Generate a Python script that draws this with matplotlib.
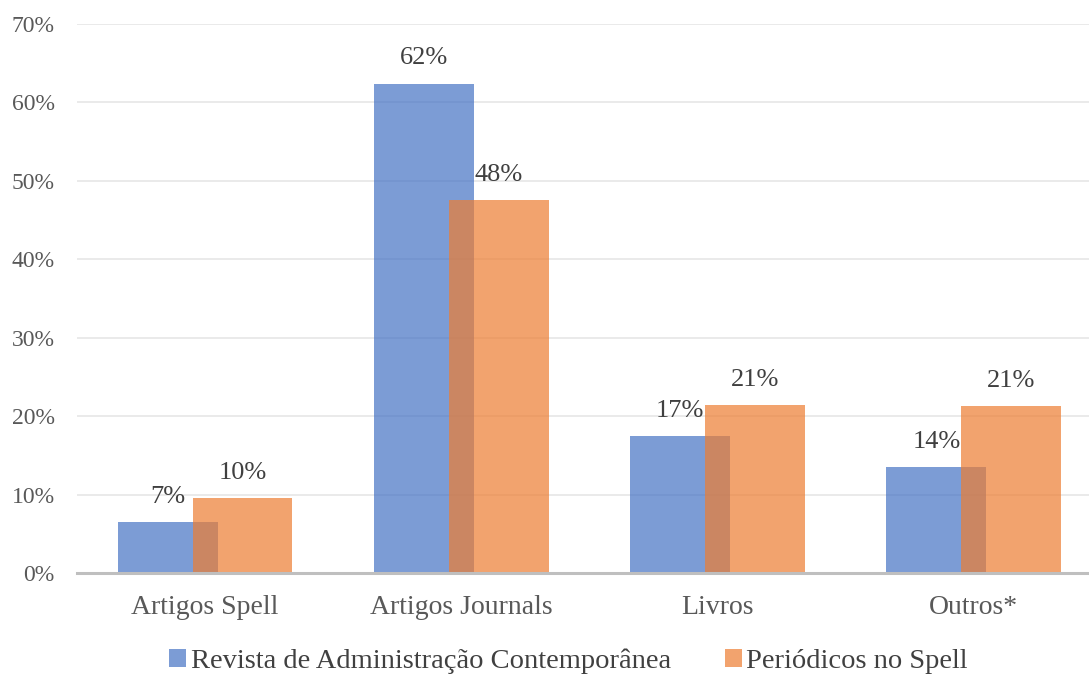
import matplotlib
matplotlib.use("Agg")
import matplotlib.pyplot as plt
from matplotlib.patches import Patch
import numpy as np

categories = ["Artigos Spell", "Artigos Journals", "Livros", "Outros*"]
rac_values = [0.065, 0.624, 0.175, 0.135]
spell_values = [0.096, 0.476, 0.214, 0.213]
rac_labels = ["7%", "62%", "17%", "14%"]
spell_labels = ["10%", "48%", "21%", "21%"]
series_names = ["Revista de Administração Contemporânea", "Periódicos no Spell"]

plt.rcParams["font.family"] = ["Liberation Serif", "DejaVu Serif"]

fig = plt.figure(figsize=(10.89, 6.75), dpi=100)
ax = fig.add_axes([77 / 1089, 102 / 675, 1 - 77 / 1089, (573 - 24) / 675])

x = np.arange(len(categories))
width = 0.39
offset = 0.146
blue = "#4472C4"
orange = "#ED7D31"

ax.bar(x - offset, rac_values, width, color=blue, alpha=0.7, zorder=2)
ax.bar(x + offset, spell_values, width, color=orange, alpha=0.7, zorder=3)

for i in range(len(categories)):
    ax.text(x[i] - offset, rac_values[i] + 0.018, rac_labels[i], ha="center", va="bottom",
            fontsize=19, color="#404040", zorder=4)
    ax.text(x[i] + offset, spell_values[i] + 0.018, spell_labels[i], ha="center", va="bottom",
            fontsize=19, color="#404040", zorder=4)

ax.set_ylim(0, 0.70)
ax.set_xlim(-0.5, 3.45)
ax.set_yticks(np.arange(0, 0.71, 0.1))
ax.set_yticklabels([f"{int(round(v * 100))}%" for v in np.arange(0, 0.71, 0.1)])
ax.set_xticks(x)
ax.set_xticklabels(categories)
ax.tick_params(axis="y", length=0, labelsize=17, labelcolor="#595959", pad=16)
ax.tick_params(axis="x", length=0, labelsize=20, labelcolor="#595959", pad=16)

ax.grid(axis="y", color="#E6E6E6", linewidth=1.2, zorder=0)
ax.set_axisbelow(True)
for s in ["left", "right", "top"]:
    ax.spines[s].set_visible(False)
ax.spines["bottom"].set_color("#BFBFBF")
ax.spines["bottom"].set_linewidth(2.2)
ax.spines["bottom"].set_zorder(5)

handles = [Patch(facecolor=blue, alpha=0.7), Patch(facecolor=orange, alpha=0.7)]
fig.legend(handles, series_names, loc="center", bbox_to_anchor=(0.522, 1 - 661 / 675),
           ncol=2, frameon=False, fontsize=20.5, labelcolor="#404040",
           handlelength=0.6, handleheight=0.6, handletextpad=0.15, columnspacing=1.9)

fig.savefig("out.png", dpi=100)
